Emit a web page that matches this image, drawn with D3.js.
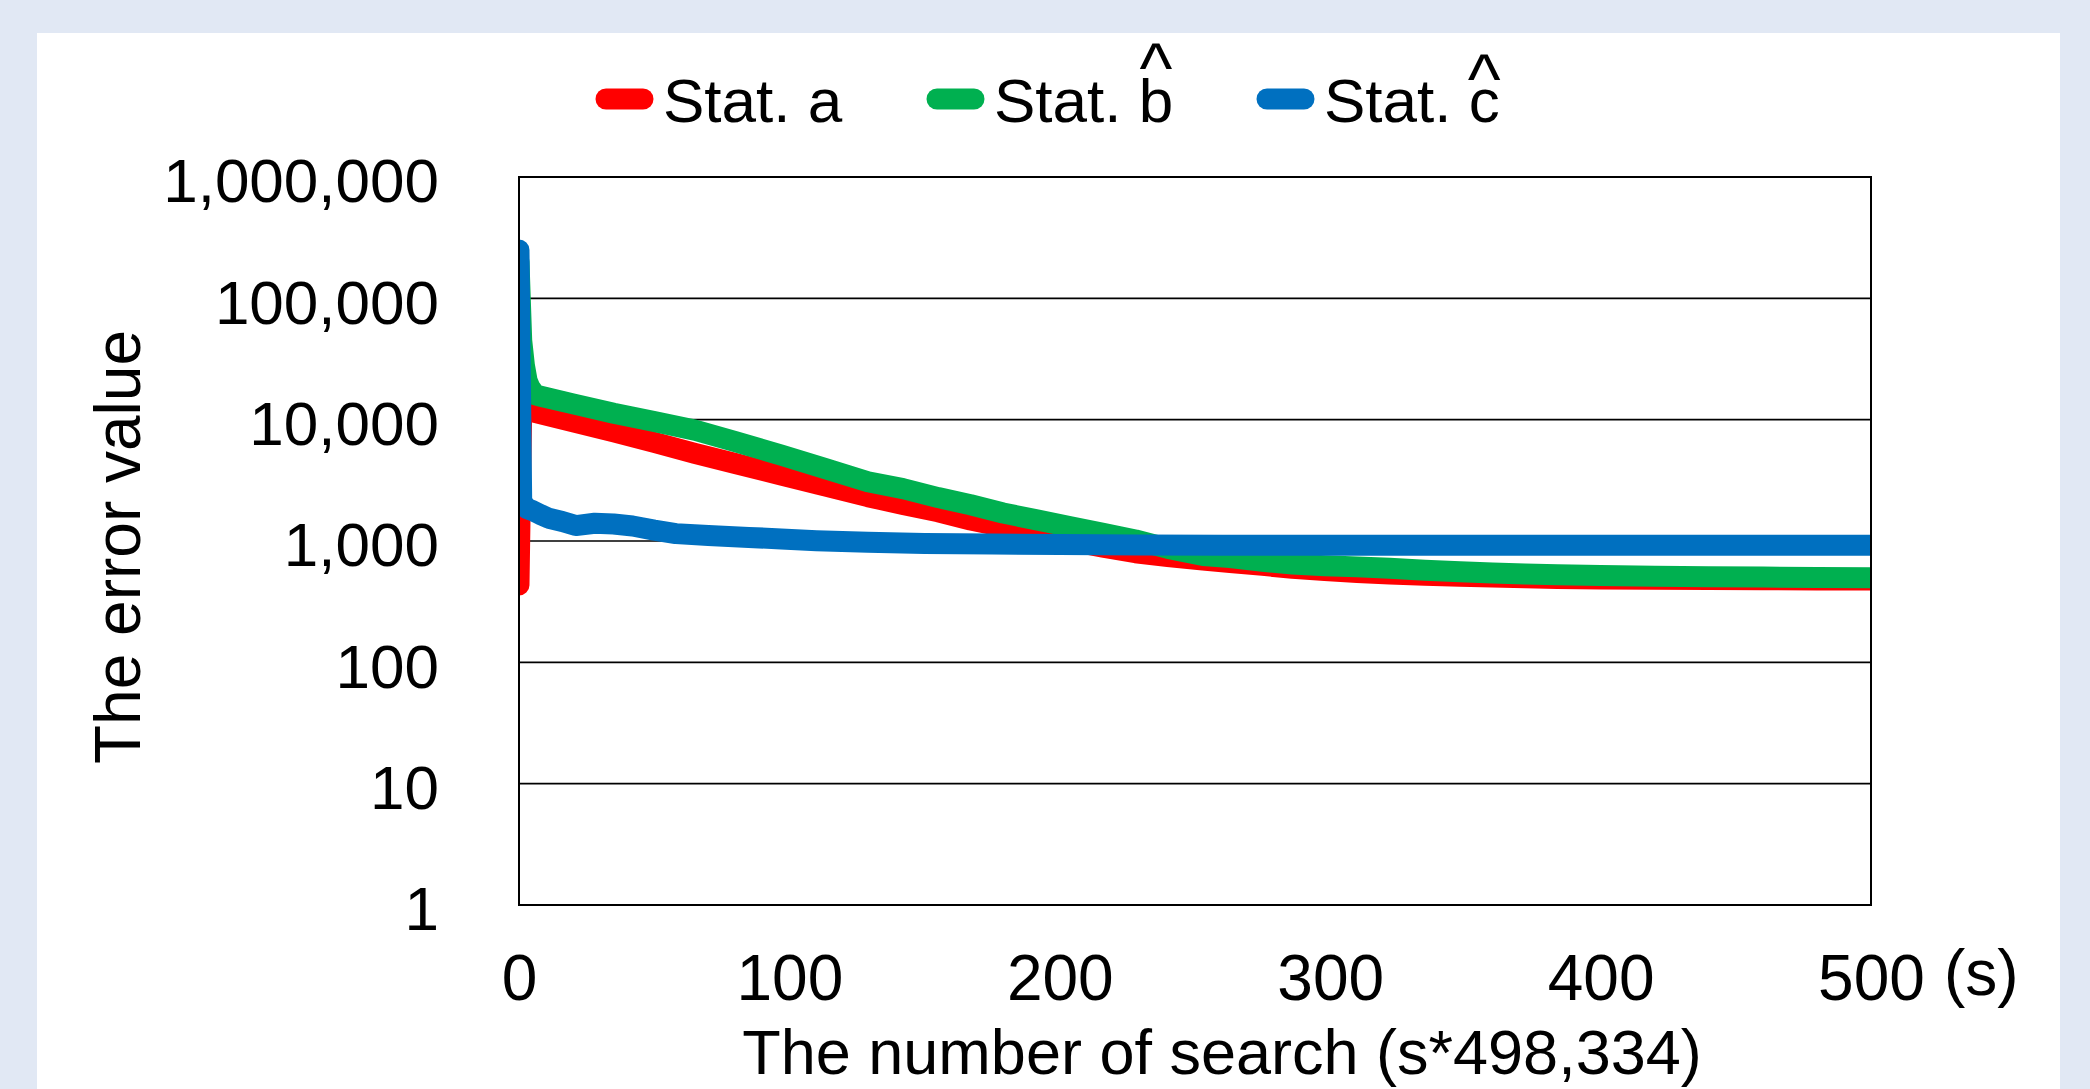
<!DOCTYPE html>
<html>
<head>
<meta charset="utf-8">
<script src="https://cdn.jsdelivr.net/npm/d3@7"></script>
<style>
  html, body { margin: 0; padding: 0; background: #e1e8f4; }
  svg { display: block; }
  text { font-family: "Liberation Sans", Arial, sans-serif; fill: #000; }
</style>
</head>
<body>
<div id="chart"></div>
<script>
// Values (s = number of search, v = error value)
const aS = [0,1,2,5,20,35,50,65,80,97,113,129,142,155,167,179,191,204,216,228,240,253,263,275,286,298,310,322,335,348,360,372,384,400,420,440,460,480,500];
const aV = [434,12000,11900,11600,9600,7950,6500,5270,4350,3490,2850,2320,2000,1740,1490,1310,1150,1000,890,800,745,695,665,630,595,570,550,535,522,512,505,498,491,487,484,481,479,477,476];

const bS = [0,1,2,3,4,6,8,20,35,50,65,80,97,113,129,142,155,167,179,191,204,216,228,240,253,263,275,286,298,310,322,335,348,360,372,384,400,420,440,460,480,500];
const bV = [200000,45000,28000,21000,18500,16000,15600,13500,11300,9650,8200,6600,5100,3970,3080,2700,2280,1990,1700,1500,1310,1160,1020,870,760,730,680,645,625,612,595,575,558,545,535,527,520,513,508,504,501,499];

const cS = [0,1,3,5,8,11,16,21,28,35,42,50,58,70,85,97,110,129,150,175,200,230,260,350,500];
const cV = [250000,2100,1850,1780,1650,1540,1450,1340,1400,1380,1330,1230,1150,1110,1070,1040,1006,977,955,945,935,925,922,922,922];

const xTicks = [0,100,200,300,400,500];
const yTicks = [1,10,100,1000,10000,100000,1000000];

const series = [
  { name: "Stat. a", hat: false, color: "#ff0000", s: aS, v: aV },
  { name: "Stat. b", hat: true,  color: "#00b050", s: bS, v: bV },
  { name: "Stat. c", hat: true,  color: "#0070c0", s: cS, v: cV }
];

const W = 2090, H = 1089;
const plot = { left: 519, top: 177, right: 1871, bottom: 905 };

const svg = d3.select("#chart").append("svg")
  .attr("width", W).attr("height", H);

// white panel on the light blue page
svg.append("rect").attr("x", 37).attr("y", 33)
  .attr("width", 2060 - 37).attr("height", H - 33).attr("fill", "#fff");

const x = d3.scaleLinear().domain([0, 500]).range([plot.left, plot.right]);
const y = d3.scaleLog().domain([1, 1000000]).range([plot.bottom, plot.top]);

// gridlines
svg.append("g").selectAll("line")
  .data(yTicks.slice(1, -1))
  .join("line")
    .attr("x1", plot.left).attr("x2", plot.right)
    .attr("y1", d => y(d)).attr("y2", d => y(d))
    .attr("stroke", "#000").attr("stroke-width", 1.6);

// clip lines to the plot area
svg.append("clipPath").attr("id", "clip")
  .append("rect").attr("x", plot.left).attr("y", plot.top)
  .attr("width", plot.right - plot.left).attr("height", plot.bottom - plot.top);

const line = d3.line().x(d => x(d[0])).y(d => y(d[1]));

svg.append("g").attr("clip-path", "url(#clip)")
  .selectAll("path")
  .data(series)
  .join("path")
    .attr("d", d => line(d.s.map((s, i) => [s, d.v[i]])))
    .attr("fill", "none")
    .attr("stroke", d => d.color)
    .attr("stroke-width", 21)
    .attr("stroke-linejoin", "round")
    .attr("stroke-linecap", "round");

// plot frame
svg.append("rect")
  .attr("x", plot.left).attr("y", plot.top)
  .attr("width", plot.right - plot.left).attr("height", plot.bottom - plot.top)
  .attr("fill", "none").attr("stroke", "#000").attr("stroke-width", 2);

// y axis labels
const yAxis = svg.append("g")
  .attr("transform", `translate(${plot.left},0)`)
  .call(d3.axisLeft(y).tickValues(yTicks).tickFormat(d3.format(",")).tickSize(0).tickPadding(80));
yAxis.select(".domain").remove();
yAxis.selectAll("text")
  .attr("dy", "0.4em")
  .style("font-size", "62px")
  .style("font-family", '"Liberation Sans", Arial, sans-serif')
  .attr("fill", "#000");

// x axis labels
const xAxis = svg.append("g")
  .attr("transform", `translate(0,${plot.bottom})`)
  .call(d3.axisBottom(x).tickValues(xTicks).tickSize(0));
xAxis.select(".domain").remove();
xAxis.selectAll("text")
  .attr("dy", null).attr("y", 95)
  .style("font-size", "64px")
  .style("font-family", '"Liberation Sans", Arial, sans-serif')
  .attr("fill", "#000");

svg.append("text").attr("x", 1944).attr("y", 995)
  .style("font-size", "64px").text("(s)");

// axis titles
svg.append("text")
  .attr("x", 1222).attr("y", 1074)
  .attr("text-anchor", "middle")
  .style("font-size", "63px")
  .text("The number of search (s*498,334)");

svg.append("text")
  .attr("transform", "translate(140,547) rotate(-90)")
  .attr("text-anchor", "middle")
  .style("font-size", "64px")
  .text("The error value");

// legend; the hat sits in the same text element as a positioned tspan
const legX = [596, 927, 1257];
const leg = svg.append("g");
series.forEach((d, i) => {
  const g = leg.append("g").attr("transform", `translate(${legX[i]},0)`);
  g.append("line")
    .attr("x1", 10).attr("x2", 47).attr("y1", 99).attr("y2", 99)
    .attr("stroke", d.color).attr("stroke-width", 21).attr("stroke-linecap", "round");
  const t = g.append("text").attr("x", 67).attr("y", 122)
    .style("font-size", "62px");
  t.append("tspan").text(d.name);
  if (d.hat) {
    const node = t.node();
    const pre = node.getSubStringLength(0, d.name.length - 1);
    const ch = node.getSubStringLength(d.name.length - 1, 1);
    const hat = t.append("tspan")
      .attr("y", i === 1 ? 92 : 103)
      .style("font-size", "70px")
      .text("^");
    const hw = hat.node().getComputedTextLength();
    hat.attr("x", 67 + pre + ch / 2 - hw / 2);
  }
});
</script>
</body>
</html>
